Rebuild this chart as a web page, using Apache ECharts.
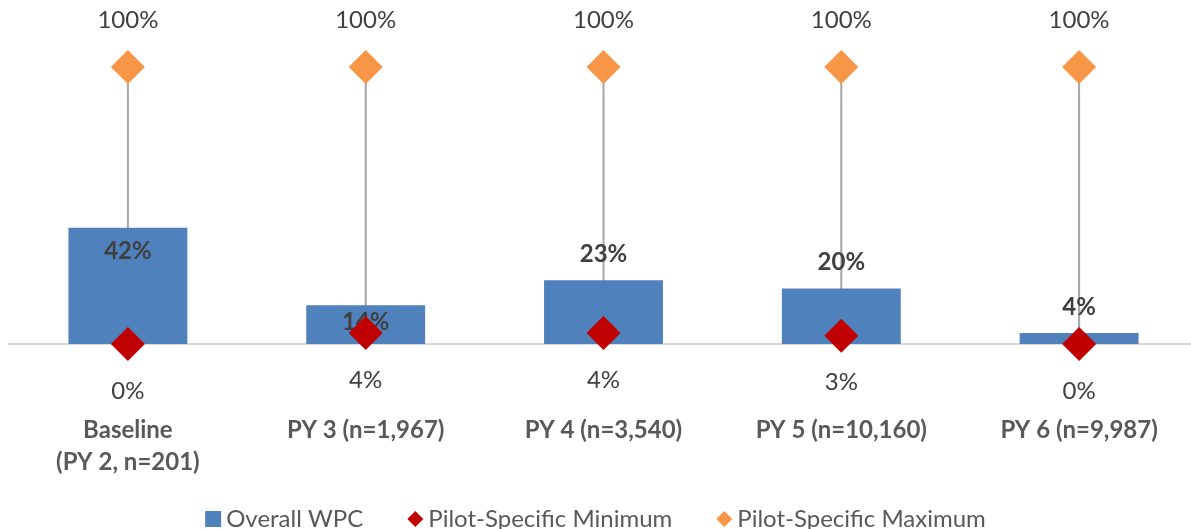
<!DOCTYPE html>
<html><head><meta charset="utf-8">
<script src="https://cdn.jsdelivr.net/npm/echarts@6/dist/echarts.min.js"></script>
<style>html,body{margin:0;padding:0;background:#fff}#c{width:1191px;height:529px}</style>
</head><body><div id="c"></div>
<script>
var categories = ['Baseline\n(PY 2, n=201)', 'PY 3 (n=1,967)', 'PY 4 (n=3,540)', 'PY 5 (n=10,160)', 'PY 6 (n=9,987)'];
var overallWPC = [42, 14, 23, 20, 4];
var pilotMin = [0, 4, 4, 3, 0];
var pilotMax = [100, 100, 100, 100, 100];
var barLabelInside = [true, true, false, false, false];

var FONT = 'Lato, "Open Sans", sans-serif';
var chart = echarts.init(document.getElementById('c'));
chart.setOption({
  animation: false,
  textStyle: {fontFamily: FONT},
  grid: {left: 9, width: 1189, top: 67, bottom: 185, containLabel: false, outerBoundsMode: 'none'},
  legend: {
    top: 502, left: 'center', itemGap: 44, itemWidth: 16, itemHeight: 16,
    textStyle: {fontSize: 24, color: '#595959', fontFamily: FONT},
    data: [
      {name: 'Overall WPC', icon: 'rect', itemStyle: {color: '#4F81BD'}},
      {name: 'Pilot-Specific Minimum', icon: 'diamond'},
      {name: 'Pilot-Specific Maximum', icon: 'diamond'}
    ]
  },
  xAxis: {
    type: 'category', data: categories,
    axisLine: {lineStyle: {color: '#D9D9D9', width: 2}},
    axisTick: {show: false},
    axisLabel: {margin: 70, fontSize: 24, fontWeight: 'bold', color: '#595959', lineHeight: 32, fontFamily: FONT, interval: 0}
  },
  yAxis: {type: 'value', min: 0, max: 100, show: false, splitLine: {show: false}},
  series: [
    {
      name: 'Overall WPC', type: 'bar', barWidth: '50%',
      itemStyle: {color: '#4F81BD'},
      data: overallWPC.map(function (v, i) {
        return {value: v, label: barLabelInside[i]
          ? {position: 'insideTop', distance: i === 0 ? 12 : 5}
          : {position: 'top', distance: 14}};
      }),
      label: {show: true, formatter: '{c}%', fontSize: 24, fontWeight: 'bold', color: '#404040', fontFamily: FONT}
    },
    {
      name: 'range', type: 'custom', silent: true,
      data: pilotMin.map(function (v, i) { return [i, v, pilotMax[i]]; }),
      encode: {x: 0, y: [1, 2]},
      renderItem: function (params, api) {
        var a = api.coord([api.value(0), api.value(1)]);
        var b = api.coord([api.value(0), api.value(2)]);
        return {type: 'line', shape: {x1: a[0], y1: a[1], x2: b[0], y2: b[1]},
          style: {stroke: '#A5A5A5', lineWidth: 2}};
      }
    },
    {
      name: 'Pilot-Specific Minimum', type: 'scatter', symbol: 'diamond', symbolSize: 34,
      itemStyle: {color: '#C00000', opacity: 1},
      data: pilotMin,
      label: {show: true, position: 'bottom', distance: 18, formatter: function (p) { return p.value + '%'; },
        fontSize: 24, color: '#404040', fontFamily: FONT}
    },
    {
      name: 'Pilot-Specific Maximum', type: 'scatter', symbol: 'diamond', symbolSize: 34,
      itemStyle: {color: '#F79646', opacity: 1},
      data: pilotMax,
      label: {show: true, position: 'top', distance: 18, formatter: function (p) { return p.value + '%'; },
        fontSize: 24, color: '#404040', fontFamily: FONT}
    }
  ]
});
</script></body></html>
